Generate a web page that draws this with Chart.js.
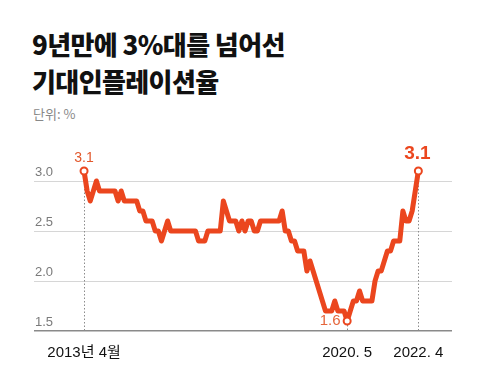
<!DOCTYPE html>
<html>
<head>
<meta charset="utf-8">
<script src="https://cdn.jsdelivr.net/npm/chart.js@4"></script>
<style>
  body { margin: 0; background: #fff; width: 480px; height: 377px; overflow: hidden; position: relative;
         font-family: "Noto Sans CJK KR", sans-serif; }
  #title { position: absolute; left: 32px; top: 25px; font-size: 26px; font-weight: 900; line-height: 37px;
           letter-spacing: -0.6px; color: #111; }
  #unit { position: absolute; left: 33px; top: 104px; font-size: 13px; color: #888; }
  #wrap { position: absolute; left: 0; top: 0; width: 480px; height: 377px; }
</style>
</head>
<body>
<div id="title">9년만에 3%대를 넘어선<br>기대인플레이션율</div>
<div id="unit">단위: %</div>
<div id="wrap"><canvas id="chart-div"></canvas></div>
<script>
// 월별 기대인플레이션율, 2013.4 ~ 2022.4
var values = [
  3.1, 2.9, 2.8, 2.9, 3.0, 2.9, 2.9, 2.9, 2.9, 2.9,
  2.9, 2.8, 2.9, 2.8, 2.8, 2.8, 2.8, 2.8, 2.7, 2.7,
  2.6, 2.6, 2.6, 2.5, 2.5, 2.4, 2.5, 2.6, 2.5, 2.5,
  2.5, 2.5, 2.5, 2.5, 2.5, 2.5, 2.5, 2.4, 2.4, 2.4,
  2.5, 2.5, 2.5, 2.5, 2.5, 2.8, 2.7, 2.6, 2.6, 2.6,
  2.5, 2.6, 2.5, 2.6, 2.6, 2.5, 2.5, 2.6, 2.6, 2.6,
  2.6, 2.6, 2.6, 2.6, 2.7, 2.5, 2.5, 2.4, 2.4, 2.3,
  2.3, 2.3, 2.1, 2.2, 2.1, 2.0, 1.9, 1.8, 1.7, 1.7,
  1.7, 1.8, 1.7, 1.7, 1.7, 1.6, 1.7, 1.8, 1.8, 1.9,
  1.8, 1.8, 1.8, 1.8, 2.0, 2.1, 2.1, 2.2, 2.3, 2.3,
  2.4, 2.4, 2.4, 2.7, 2.6, 2.6, 2.7, 2.9, 3.1
];
var tickIdx = [0, 85, 108];
var tickLabels = ['2013년 4월', '2020. 5', '2022. 4'];
var yTicks = [1.5, 2.0, 2.5, 3.0];
var marked = [0, 85, 108];   // 동그라미 + 수치 표시

var lineColor = '#eb461e';
var numFont = '"Liberation Sans", "Noto Sans CJK KR", sans-serif';

var points = values.map(function (v, i) { return { x: i, y: v }; });

var annotate = {
  id: 'annotate',
  beforeDatasetsDraw: function (chart) {
    var ctx = chart.ctx, x = chart.scales.x, y = chart.scales.y;
    var bottom = y.getPixelForValue(1.5);
    ctx.save();
    ctx.strokeStyle = '#8c8c8c';
    ctx.lineWidth = 1;
    ctx.setLineDash([1.5, 2]);
    marked.forEach(function (i) {
      var px = Math.round(x.getPixelForValue(i)) + 0.5;
      ctx.beginPath();
      ctx.moveTo(px, y.getPixelForValue(values[i]) + 4);
      ctx.lineTo(px, bottom);
      ctx.stroke();
    });
    ctx.restore();
  },
  afterDatasetsDraw: function (chart) {
    var ctx = chart.ctx, x = chart.scales.x, y = chart.scales.y;
    ctx.save();
    ctx.textAlign = 'center';
    ctx.textBaseline = 'middle';

    // 시작점
    ctx.font = '14px ' + numFont;
    ctx.fillStyle = '#e2582c';
    ctx.fillText(values[0].toFixed(1), x.getPixelForValue(0), y.getPixelForValue(values[0]) - 13);

    // 최저점
    ctx.font = '15px ' + numFont;
    ctx.fillStyle = '#e5663c';
    ctx.fillText(values[85].toFixed(1), x.getPixelForValue(85) - 17, y.getPixelForValue(values[85]));

    // 마지막
    ctx.font = 'bold 19px ' + numFont;
    ctx.fillStyle = lineColor;
    ctx.fillText(values[108].toFixed(1), x.getPixelForValue(108) - 1, y.getPixelForValue(values[108]) - 17);
    ctx.restore();
  }
};

var config = {
  type: 'line',
  data: {
    datasets: [{
      data: points,
      borderColor: lineColor,
      borderWidth: 5,
      borderJoinStyle: 'round',
      borderCapStyle: 'round',
      tension: 0,
      pointRadius: function (c) { return marked.indexOf(c.dataIndex) >= 0 ? 3.5 : 0; },
      pointBorderWidth: 2,
      pointBackgroundColor: '#fff',
      pointBorderColor: lineColor
    }]
  },
  options: {
    responsive: true,
    maintainAspectRatio: false,
    animation: false,
    layout: { padding: { left: 32, right: 28, top: 161, bottom: 10 } },
    plugins: {
      legend: { display: false },
      title: { display: false },
      tooltip: { enabled: false }
    },
    scales: {
      x: {
        type: 'linear',
        min: -16.17,
        max: 118.87,
        grid: { display: false },
        border: { display: false },
        afterBuildTicks: function (s) { s.ticks = tickIdx.map(function (v) { return { value: v }; }); },
        ticks: {
          autoSkip: false,
          maxRotation: 0,
          padding: 5,
          color: '#111',
          font: { family: numFont, size: 15 },
          callback: function (v) { var k = tickIdx.indexOf(v); return k >= 0 ? tickLabels[k] : ''; }
        }
      },
      y: {
        min: 1.5,
        max: 3.2,
        grid: {
          drawTicks: false,
          color: function (c) { return c.tick && c.tick.value === 1.5 ? '#8a8a8a' : '#d6d6d6'; },
          lineWidth: function (c) { return c.tick && c.tick.value === 1.5 ? 1.5 : 1; }
        },
        border: { display: false },
        afterBuildTicks: function (s) { s.ticks = yTicks.map(function (v) { return { value: v }; }); },
        ticks: {
          mirror: true,
          padding: 1,
          labelOffset: -9,
          color: '#7a7a7a',
          font: { family: numFont, size: 13 },
          callback: function (v) { return Number(v).toFixed(1); }
        }
      }
    }
  },
  plugins: [annotate]
};

new Chart(document.getElementById('chart-div').getContext('2d'), config);
</script>
</body>
</html>
